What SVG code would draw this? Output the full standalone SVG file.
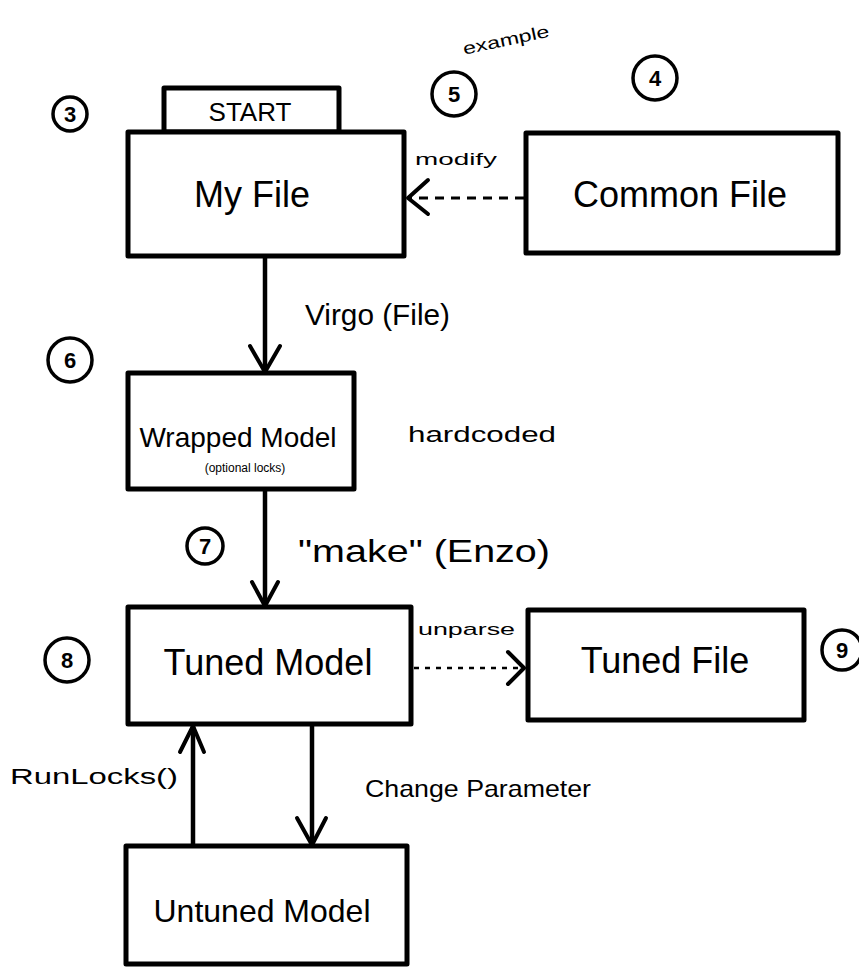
<svg xmlns="http://www.w3.org/2000/svg" width="859" height="969" viewBox="0 0 859 969">
<style>
.box{fill:#fff;stroke:#000;stroke-width:5;stroke-linejoin:round}
.num{fill:none;stroke:#000;stroke-width:3.5}
.t{font-family:"Liberation Sans","DejaVu Sans",sans-serif;fill:#000}
.big{font-size:36px}
.mid{font-size:30px}
.sm{font-size:17px}
.xs{font-size:12px}
.cn{font-size:22px;font-weight:bold}
.ln{stroke:#000;stroke-width:4.5;fill:none}
.dash{stroke:#000;stroke-width:3;fill:none;stroke-dasharray:9 7}
.dot{stroke:#000;stroke-width:2.5;fill:none;stroke-dasharray:5 6}
.head{stroke:#000;stroke-width:4;fill:none;stroke-linecap:round;stroke-linejoin:round}
</style>
<rect width="859" height="969" fill="#fff"/>

<g id="connectors">
  <line class="ln" x1="265" y1="257" x2="265" y2="372"/>
  <polyline class="head" points="250,346 265,372 280,346"/>
  <line class="ln" x1="265" y1="490" x2="265" y2="606"/>
  <polyline class="head" points="252,582 265,606 278,582"/>
  <line class="dash" x1="524" y1="198" x2="410" y2="198"/>
  <polyline class="head" points="428,180 408,198 428,214"/>
  <line class="dot" x1="414" y1="668" x2="522" y2="668"/>
  <polyline class="head" points="508,652 524,668 508,684"/>
  <line class="ln" x1="193" y1="845" x2="193" y2="726"/>
  <polyline class="head" points="180,752 193,726 204,752"/>
  <line class="ln" x1="312" y1="726" x2="312" y2="845"/>
  <polyline class="head" points="297,818 312,845 326,818"/>
  <text class="t sm" x="415" y="165" textLength="82" lengthAdjust="spacingAndGlyphs">modify</text>
  <text class="t mid" x="305" y="325" textLength="145" lengthAdjust="spacingAndGlyphs">Virgo (File)</text>
  <text class="t" x="298" y="562" font-size="32" textLength="252" lengthAdjust="spacingAndGlyphs">"make" (Enzo)</text>
  <text class="t sm" x="418" y="635" textLength="97" lengthAdjust="spacingAndGlyphs">unparse</text>
  <text class="t" x="10" y="784" font-size="22" textLength="168" lengthAdjust="spacingAndGlyphs">RunLocks()</text>
  <text class="t" x="365" y="797" font-size="24" textLength="226" lengthAdjust="spacingAndGlyphs">Change Parameter</text>
  <text class="t" x="408" y="442" font-size="22" textLength="148" lengthAdjust="spacingAndGlyphs">hardcoded</text>
  <text class="t sm" x="462" y="46" transform="rotate(-12 505 40)" textLength="88" lengthAdjust="spacingAndGlyphs">example</text>
</g>

<g id="start">
  <rect class="box" x="164" y="88" width="175" height="44"/>
  <text class="t" x="250" y="121" font-size="26" text-anchor="middle">START</text>
</g>
<g id="myfile">
  <rect class="box" x="128" y="132" width="276" height="124"/>
  <text class="t big" x="252" y="207" text-anchor="middle">My File</text>
</g>
<g id="commonfile">
  <rect class="box" x="526" y="133" width="312" height="120"/>
  <text class="t big" x="680" y="207" text-anchor="middle">Common File</text>
</g>
<g id="wrappedmodel">
  <rect class="box" x="128" y="373" width="226" height="116"/>
  <text class="t" x="238" y="447" font-size="28" text-anchor="middle">Wrapped Model</text>
  <text class="t xs" x="245" y="472" text-anchor="middle">(optional locks)</text>
</g>
<g id="tunedmodel">
  <rect class="box" x="128" y="607" width="283" height="117"/>
  <text class="t big" x="268" y="675" text-anchor="middle">Tuned Model</text>
</g>
<g id="tunedfile">
  <rect class="box" x="528" y="610" width="276" height="110"/>
  <text class="t big" x="665" y="673" text-anchor="middle">Tuned File</text>
</g>
<g id="untunedmodel">
  <rect class="box" x="126" y="846" width="281" height="118"/>
  <text class="t" x="262" y="922" font-size="32" text-anchor="middle">Untuned Model</text>
</g>

<g id="labels">
  <circle class="num" cx="70" cy="114" r="17"/><text class="t cn" x="70" y="122" text-anchor="middle">3</text>
  <circle class="num" cx="454" cy="94" r="22"/><text class="t cn" x="454" y="102" text-anchor="middle">5</text>
  <circle class="num" cx="655" cy="78" r="22"/><text class="t cn" x="655" y="86" text-anchor="middle">4</text>
  <circle class="num" cx="70" cy="360" r="22"/><text class="t cn" x="70" y="368" text-anchor="middle">6</text>
  <circle class="num" cx="205" cy="546" r="18"/><text class="t cn" x="205" y="554" text-anchor="middle">7</text>
  <circle class="num" cx="67" cy="660" r="22"/><text class="t cn" x="67" y="668" text-anchor="middle">8</text>
  <circle class="num" cx="842" cy="650" r="20"/><text class="t cn" x="842" y="658" text-anchor="middle">9</text>
</g>
</svg>
